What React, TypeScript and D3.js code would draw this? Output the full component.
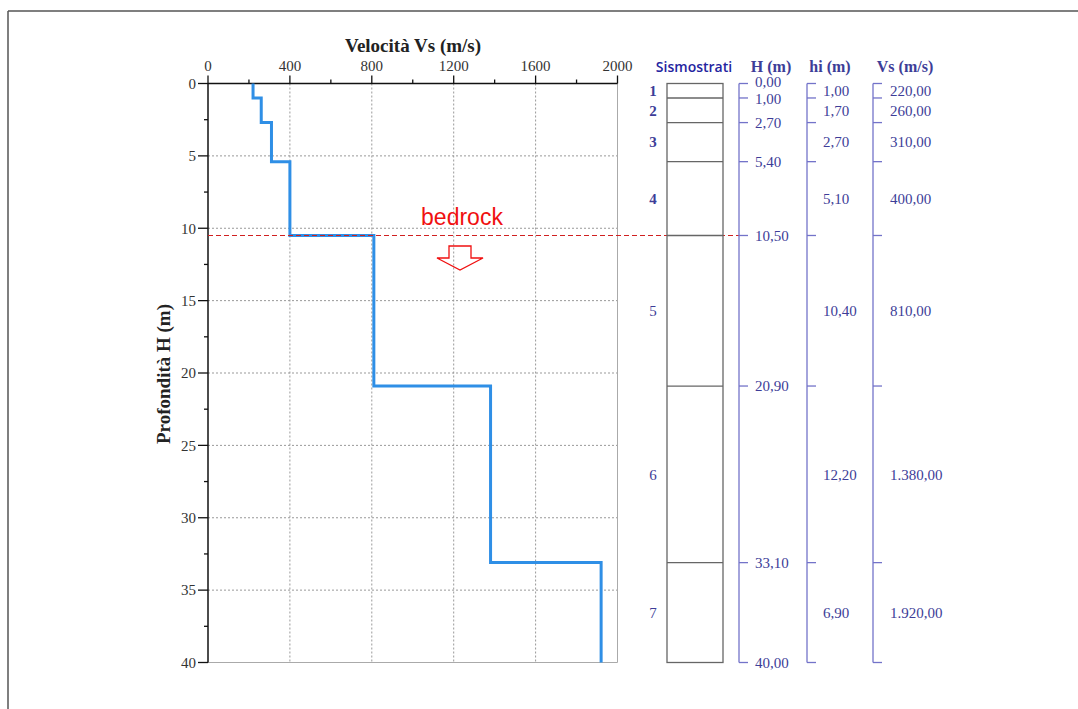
import React from 'react';
import * as d3 from 'd3';

// strati sismici (profondità in m, Vs in m/s)
const layerIds = ['1', '2', '3', '4', '5', '6', '7'];
const depthBounds = [0, 1.0, 2.7, 5.4, 10.5, 20.9, 33.1, 40.0];
const thickness = [1.0, 1.7, 2.7, 5.1, 10.4, 12.2, 6.9];
const vsValues = [220, 260, 310, 400, 810, 1380, 1920];
const xTicks = [0, 400, 800, 1200, 1600, 2000];
const xMinorTicks = [200, 600, 1000, 1400, 1800];
const yTicks = [0, 5, 10, 15, 20, 25, 30, 35, 40];
const yMinorTicks = [2.5, 7.5, 12.5, 17.5, 22.5, 27.5, 32.5, 37.5];
const bedrockDepth = 10.5;

const W = 1078;
const H = 709;
const navy = '#3d3d98';
const bracket = '#7373c9';
const serif = '"Liberation Serif", "DejaVu Serif", serif';

const it = d3.formatLocale({ decimal: ',', thousands: '.', grouping: [3], currency: ['', ''] });
const fmt = it.format(',.2f');

const App = () => {
  const x = d3.scaleLinear().domain([0, 2000]).range([208, 617.5]);
  const y = d3.scaleLinear().domain([0, 40]).range([83.5, 662.5]);

  // profilo a gradini
  const pts: [number, number][] = [];
  vsValues.forEach((v, i) => {
    pts.push([v, depthBounds[i]]);
    pts.push([v, depthBounds[i + 1]]);
  });
  const line = d3
    .line<[number, number]>()
    .x((d) => x(d[0]))
    .y((d) => y(d[1]));

  const colL = 667;
  const colR = 723;
  const hX = 739;
  const hiX = 807;
  const vsX = 873;
  const mid = (i: number) => y((depthBounds[i] + depthBounds[i + 1]) / 2);
  const bedY = Math.round(y(bedrockDepth)) + 0.5;

  const arrowCx = 460;
  const arrow = [
    [arrowCx - 11, 246],
    [arrowCx + 11, 246],
    [arrowCx + 11, 258],
    [arrowCx + 23, 258],
    [arrowCx, 270],
    [arrowCx - 23, 258],
    [arrowCx - 11, 258],
  ]
    .map((p) => p.join(','))
    .join(' ');

  return (
    <svg width={W} height={H} style={{ position: 'absolute', left: 0, top: 0, background: '#fff' }}>
      {/* cornice */}
      <line x1={8} y1={11} x2={W} y2={11} stroke="#555" strokeWidth={1.5} />
      <line x1={8} y1={11} x2={8} y2={H} stroke="#555" strokeWidth={1.5} />

      {/* griglia */}
      {xTicks.slice(1, -1).map((t) => (
        <line key={'gx' + t} x1={x(t)} x2={x(t)} y1={y(0)} y2={y(40)} stroke="#999" strokeDasharray="2,2" />
      ))}
      {yTicks.slice(1, -1).map((t) => (
        <line key={'gy' + t} x1={x(0)} x2={x(2000)} y1={y(t)} y2={y(t)} stroke="#999" strokeDasharray="2,2" />
      ))}
      <line x1={x(2000)} x2={x(2000)} y1={y(0)} y2={y(40)} stroke="#aaa" />
      <line x1={x(0)} x2={x(2000)} y1={y(40)} y2={y(40)} stroke="#aaa" />

      {/* assi */}
      <line x1={x(0)} x2={x(2000)} y1={y(0)} y2={y(0)} stroke="#111" strokeWidth={1.5} />
      <line x1={x(0)} x2={x(0)} y1={y(0)} y2={y(40)} stroke="#111" strokeWidth={1.5} />
      {xTicks.map((t) => (
        <g key={'xt' + t}>
          <line x1={x(t)} x2={x(t)} y1={y(0) - 8} y2={y(0)} stroke="#111" strokeWidth={1.3} />
          <text x={x(t)} y={71} textAnchor="middle" fontFamily={serif} fontSize={15} fill="#333">
            {t}
          </text>
        </g>
      ))}
      {xMinorTicks.map((t) => (
        <line key={'xm' + t} x1={x(t)} x2={x(t)} y1={y(0) - 4} y2={y(0)} stroke="#111" strokeWidth={1.3} />
      ))}
      {yTicks.map((t) => (
        <g key={'yt' + t}>
          <line x1={x(0) - 10} x2={x(0)} y1={y(t)} y2={y(t)} stroke="#111" strokeWidth={1.3} />
          <text x={196} y={y(t)} dy="0.35em" textAnchor="end" fontFamily={serif} fontSize={15} fill="#333">
            {t}
          </text>
        </g>
      ))}
      {yMinorTicks.map((t) => (
        <line key={'ym' + t} x1={x(0) - 4} x2={x(0)} y1={y(t)} y2={y(t)} stroke="#111" strokeWidth={1.3} />
      ))}
      <text x={413} y={52} textAnchor="middle" fontFamily={serif} fontWeight="bold" fontSize={19} fill="#222">
        Velocità Vs (m/s)
      </text>
      <text
        transform="translate(170,374) rotate(-90)"
        textAnchor="middle"
        fontFamily={serif}
        fontWeight="bold"
        fontSize={19}
        fill="#222"
      >
        Profondità H (m)
      </text>

      {/* profilo Vs */}
      <path d={line(pts) || ''} fill="none" stroke="#2f8fe6" strokeWidth={3} />

      {/* bedrock */}
      <line x1={x(0)} x2={hX} y1={bedY} y2={bedY} stroke="#d02020" strokeWidth={1} strokeDasharray="5,3" />
      <text x={462} y={225} textAnchor="middle" fontFamily='"Liberation Sans", Arial, sans-serif' fontSize={23} fill="#f01010">
        bedrock
      </text>
      <polygon points={arrow} fill="none" stroke="#f01010" strokeWidth={1.3} />

      {/* colonna sismostrati */}
      <text x={694} y={72} textAnchor="middle" fontFamily='"Open Sans", sans-serif' fontWeight={600} fontSize={14} fill="#2424a0">
        Sismostrati
      </text>
      <text x={771} y={72} textAnchor="middle" fontFamily={serif} fontWeight="bold" fontSize={16} fill={navy}>
        H (m)
      </text>
      <text x={830} y={72} textAnchor="middle" fontFamily={serif} fontWeight="bold" fontSize={16} fill={navy}>
        hi (m)
      </text>
      <text x={905} y={72} textAnchor="middle" fontFamily={serif} fontWeight="bold" fontSize={16} fill={navy}>
        Vs (m/s)
      </text>

      <rect x={colL} y={y(0)} width={colR - colL} height={y(40) - y(0)} fill="none" stroke="#666" strokeWidth={1.3} />
      {depthBounds.slice(1, -1).map((d) => (
        <line key={'lb' + d} x1={colL} x2={colR} y1={y(d)} y2={y(d)} stroke="#666" strokeWidth={1.3} />
      ))}
      {layerIds.map((id, i) => (
        <text
          key={'id' + id}
          x={653}
          y={mid(i)}
          dy="0.35em"
          textAnchor="middle"
          fontFamily={serif}
          fontWeight={i < 4 ? 600 : 'normal'}
          fontSize={15}
          fill={navy}
        >
          {id}
        </text>
      ))}

      {/* scale a parentesi */}
      {[hX, hiX, vsX].map((bx) => (
        <g key={'br' + bx}>
          <line x1={bx} x2={bx} y1={y(0)} y2={y(40)} stroke={bracket} strokeWidth={1.3} />
          {depthBounds.map((d) => (
            <line key={d} x1={bx} x2={bx + 9} y1={y(d)} y2={y(d)} stroke={bracket} strokeWidth={1.3} />
          ))}
        </g>
      ))}
      {depthBounds.map((d, i) => (
        <text
          key={'hl' + i}
          x={755}
          y={y(d) + (i === 0 ? -2 : i === 1 ? 1 : 0)}
          dy="0.35em"
          fontFamily={serif}
          fontSize={15}
          fill={navy}
        >
          {fmt(d)}
        </text>
      ))}
      {thickness.map((t, i) => (
        <text key={'hi' + i} x={823} y={mid(i)} dy="0.35em" fontFamily={serif} fontSize={15} fill={navy}>
          {fmt(t)}
        </text>
      ))}
      {vsValues.map((v, i) => (
        <text key={'vs' + i} x={890} y={mid(i)} dy="0.35em" fontFamily={serif} fontSize={15} fill={navy}>
          {fmt(v)}
        </text>
      ))}
    </svg>
  );
};

export default App;
